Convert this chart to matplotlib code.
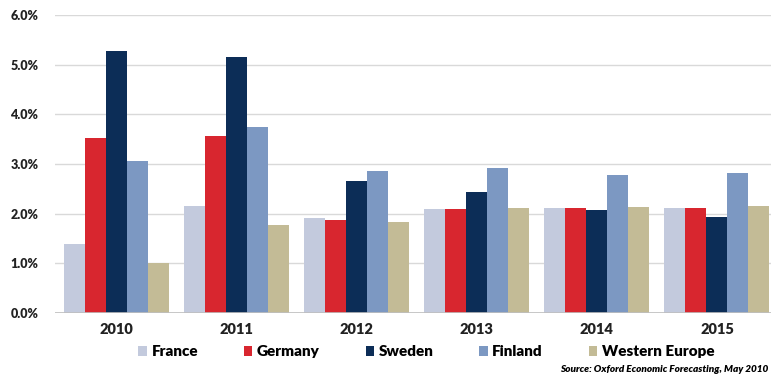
import numpy as np
import matplotlib.pyplot as plt

# GDP growth by country, % per annum
years = ['2010', '2011', '2012', '2013', '2014', '2015']
france = [1.38, 2.16, 1.92, 2.10, 2.11, 2.11]
germany = [3.52, 3.56, 1.87, 2.09, 2.11, 2.11]
sweden = [5.27, 5.15, 2.66, 2.44, 2.08, 1.93]
finland = [3.07, 3.75, 2.86, 2.91, 2.78, 2.81]
western_europe = [1.00, 1.78, 1.83, 2.12, 2.13, 2.15]

series = [('France', france, '#c3cadd'),
          ('Germany', germany, '#d8262f'),
          ('Sweden', sweden, '#0c2d57'),
          ('Finland', finland, '#7c98c2'),
          ('Western Europe', western_europe, '#c3bb96')]

plt.rcParams['font.family'] = ['Lato', 'DejaVu Sans']

fig = plt.figure(figsize=(7.71, 3.76), dpi=100)
ax = fig.add_axes([55 / 771, 1 - 313 / 376, 1 - 55 / 771, (313 - 15) / 376])

x = np.arange(len(years))
width = 0.175
for i, (name, vals, col) in enumerate(series):
    ax.bar(x + (i - 2) * width, vals, width, color=col, label=name, zorder=2)

ax.set_ylim(0, 6)
ax.set_xlim(-0.51, 5.45)
ax.set_yticks(np.arange(0, 6.1, 1.0))
ax.set_yticklabels(['%.1f%%' % v for v in np.arange(0, 6.1, 1.0)],
                   fontsize=9, fontweight='heavy', color='#222222')
ax.set_xticks(x)
ax.set_xticklabels(years, fontsize=10.5, fontweight='heavy', color='#222222')
ax.tick_params(axis='both', length=0)
ax.tick_params(axis='y', pad=12)
ax.tick_params(axis='x', pad=7)

ax.grid(axis='y', color='#d9d9d9', linewidth=1, zorder=0)
for s in ax.spines.values():
    s.set_visible(False)
ax.axhline(0, color='#bfbfbf', linewidth=1.2, zorder=3)

fig.legend(loc='center', bbox_to_anchor=(0.553, 1 - 352 / 376), ncol=5,
           frameon=False, prop={'size': 11, 'weight': 'heavy'},
           handlelength=0.55, handleheight=0.55, handletextpad=0.3,
           columnspacing=3.0)

fig.text(0.997, 1 - 370 / 376, 'Source: Oxford Economic Forecasting, May 2010',
         fontsize=7.2, fontweight='heavy', style='italic', va='center', ha='right')

fig.savefig('out.png', dpi=100)
